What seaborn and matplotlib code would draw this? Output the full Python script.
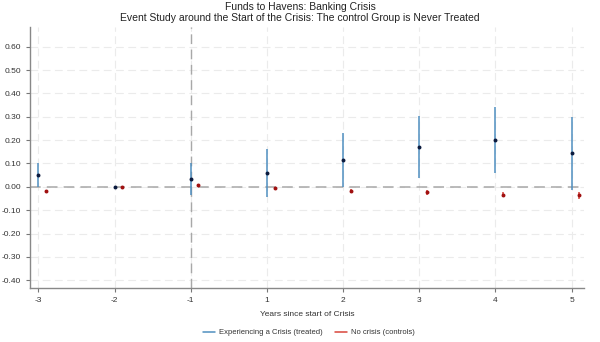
import matplotlib
matplotlib.use("Agg")
import matplotlib.pyplot as plt
import seaborn as sns
import numpy as np
import pandas as pd
from matplotlib.lines import Line2D

years = ["-3", "-2", "-1", "1", "2", "3", "4", "5"]
treated_coef = [0.050, 0.000, 0.034, 0.061, 0.116, 0.170, 0.200, 0.143]
treated_lo = [0.000, 0.000, -0.035, -0.042, 0.000, 0.037, 0.059, -0.013]
treated_hi = [0.102, 0.000, 0.104, 0.163, 0.230, 0.304, 0.342, 0.299]
control_coef = [-0.016, 0.000, 0.006, -0.006, -0.017, -0.024, -0.033, -0.037]
control_lo = [-0.019, 0.000, 0.002, -0.011, -0.025, -0.036, -0.045, -0.052]
control_hi = [-0.013, 0.000, 0.010, -0.001, -0.009, -0.012, -0.021, -0.022]
yticks = [-0.40, -0.30, -0.20, -0.10, 0.00, 0.10, 0.20, 0.30, 0.40, 0.50, 0.60]

sns.set_style("white")
plt.rcParams["font.family"] = ["Liberation Sans", "DejaVu Sans"]

fig = plt.figure(figsize=(6, 3.42), dpi=100)
ax = fig.add_axes([0.05, 0.158, 0.923, 0.763])

idx = np.arange(len(years))
off = 0.1
blue = "#4f8fc0"
red = "#d9453a"

df_t = pd.DataFrame({"x": idx, "coef": treated_coef, "lo": treated_lo, "hi": treated_hi})
df_c = pd.DataFrame({"x": idx + off, "coef": control_coef, "lo": control_lo, "hi": control_hi})

# grid
for t in yticks:
    ax.axhline(t, color="#ebebeb", lw=0.8, ls=(0, (7, 4)), zorder=0)
for i in idx:
    ax.axvline(i, color="#ebebeb", lw=0.8, ls=(0, (7, 4)), zorder=0)

ax.axhline(0, color="#a8a8a8", lw=1.1, ls=(0, (7, 4)), zorder=1)
ax.axvline(2, color="#a8a8a8", lw=1.0, ls=(0, (7, 4)), zorder=1)

ax.vlines(df_t["x"], df_t["lo"], df_t["hi"], color=blue, lw=1.1, zorder=2)
ax.vlines(df_c["x"], df_c["lo"], df_c["hi"], color=red, lw=1.1, zorder=2)
sns.scatterplot(data=df_t, x="x", y="coef", ax=ax, color="#0b1a3e", s=8, linewidth=0, zorder=3, legend=False)
sns.scatterplot(data=df_c, x="x", y="coef", ax=ax, color="#a01010", s=8, linewidth=0, zorder=3, legend=False)

ax.set_xlim(-0.11, 7.16)
ax.set_ylim(-0.433, 0.684)
ax.set_xticks(idx)
ax.set_xticklabels(years)
ax.set_yticks(yticks)
ax.set_yticklabels([f"{t:.2f}" for t in yticks])
ax.tick_params(axis="both", labelsize=6, length=3, color="#777777", labelcolor="#333333", direction="out",
               bottom=True, left=True, width=0.8)
for s in ["top", "right"]:
    ax.spines[s].set_visible(False)
for s in ["left", "bottom"]:
    ax.spines[s].set_color("#888888")
    ax.spines[s].set_linewidth(1.0)

ax.set_xlabel("Years since start of Crisis", fontsize=6, color="#333333", labelpad=5)
ax.set_ylabel("")
fig.suptitle("Funds to Havens: Banking Crisis\nEvent Study around the Start of the Crisis: The control Group is Never Treated",
             fontsize=7.5, y=0.995, color="#222222", linespacing=1.1)

handles = [Line2D([], [], color=blue, lw=1.1), Line2D([], [], color=red, lw=1.1)]
fig.legend(handles, ["Experiencing a Crisis (treated)", "No crisis (controls)"], loc="center",
           bbox_to_anchor=(0.515, 0.027), ncol=2, frameon=False, fontsize=5.5, handlelength=1.6,
           handletextpad=0.5, columnspacing=1.6, labelcolor="#333333")

fig.savefig("out.png", dpi=100)
